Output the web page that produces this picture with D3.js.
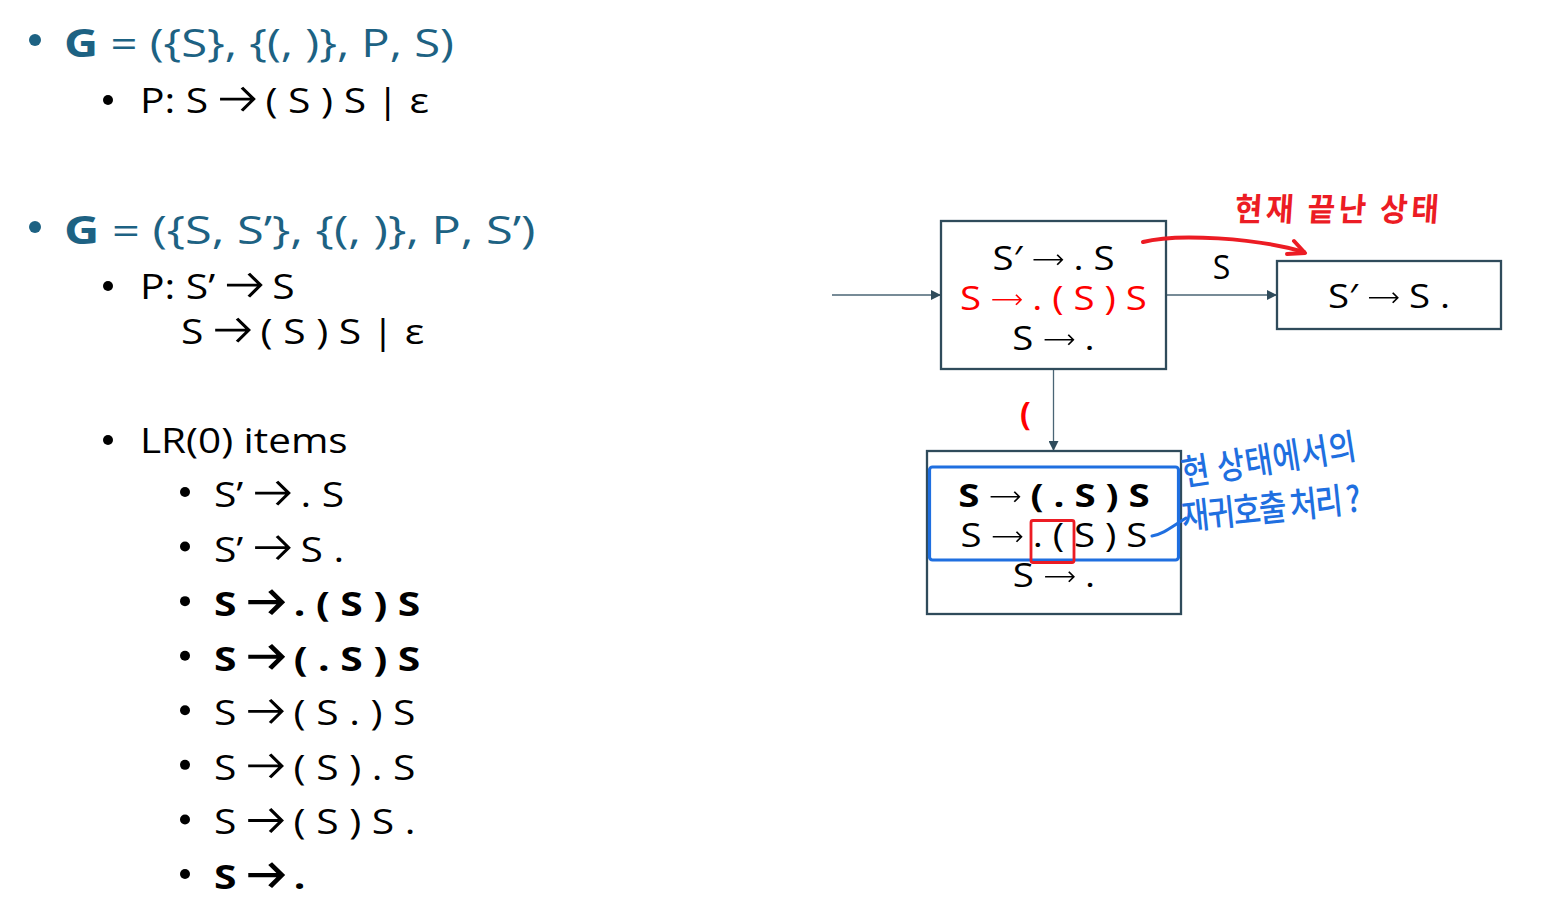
<!DOCTYPE html>
<html>
<head>
<meta charset="utf-8">
<script src="https://cdn.jsdelivr.net/npm/d3@7"></script>
<style>
  body { margin: 0; background: #fff; }
  text { font-family: "Open Sans", "Noto Sans", "DejaVu Sans", sans-serif; }
  .kr { font-family: "Noto Sans CJK KR", sans-serif; }
</style>
</head>
<body>
<svg id="slide"></svg>
<script>
// ---- slide content ----
const grammars = ["({S}, {(, )}, P, S)", "({S, S’}, {(, )}, P, S’)"];
const productionsA = ["P: S -> ( S ) S | ε"];
const productionsB = ["P: S’ -> S", "S -> ( S ) S | ε"];
const itemsHeading = "LR(0) items";
const lr0Items = ["S’ -> . S", "S’ -> S .", "S -> . ( S ) S", "S -> ( . S ) S",
                  "S -> ( S . ) S", "S -> ( S ) . S", "S -> ( S ) S .", "S -> ."];
const lr0Bold = [false, false, true, true, false, false, false, true];

// automaton states
const state0 = ["S′ -> . S", "S -> . ( S ) S", "S -> ."];
const state0Colors = ["#000", "#ff0000", "#000"];
const state1 = ["S′ -> S ."];
const state2 = ["S -> ( . S ) S", "S -> . ( S ) S", "S -> ."];
const state2Bold = [true, false, false];
const transitions = [
  { from: "start", to: 0, label: "" },
  { from: 0, to: 1, label: "S" },
  { from: 0, to: 2, label: "(" }
];
// handwritten notes
const redNote = "현재 끝난 상태";
const blueNote = ["현 상태에서의", "재귀호출 처리 ?"];

const W = 1567, H = 911;
const teal = "#1d6283", slate = "#2f4b5b", red = "#ff0000", pen = "#ec1c24", blue = "#1f6fe0";

const svg = d3.select("#slide").attr("width", W).attr("height", H);

// draws "a -> b" strings: text pieces with drawn arrows between them
function drawExpr(parent, str, o) {
  const g = parent.append("g");
  let x = 0;
  str.split("->").forEach((part, i) => {
    if (i > 0) {
      const cy = -o.size * o.arrowY, x1 = x + o.arrowW - 1;
      g.append("path")
        .attr("d", `M${x + 1},${cy}H${x1}M${x1 - o.head * 0.85},${cy - o.head}L${x1},${cy}L${x1 - o.head * 0.85},${cy + o.head}`)
        .attr("fill", "none")
        .attr("stroke", o.fill)
        .attr("stroke-width", o.arrowStroke)
        .attr("stroke-linejoin", "miter");
      x += o.arrowW;
    }
    if (part.length) {
      const t = g.append("text")
        .attr("xml:space", "preserve")
        .style("white-space", "pre")
        .attr("x", x).attr("y", 0)
        .attr("font-size", o.size)
        .attr("font-weight", o.bold ? 700 : 400)
        .attr("fill", o.fill)
        .text(part);
      x += t.node().getComputedTextLength();
    }
  });
  const sx = o.sx || 1;
  const x0 = o.anchor === "middle" ? o.x - x * sx / 2 : o.x;
  g.attr("transform", `translate(${x0},${o.y}) scale(${sx},1)`);
  return g;
}

const listStyle = { size: 34, sx: 1.2, arrowW: 30, arrowY: 0.41, head: 11.5, fill: "#000" };
const boxStyle = { size: 32, sx: 1.2, arrowW: 26, arrowY: 0.32, head: 5, arrowStroke: 1.4, fill: "#000", anchor: "middle" };

function bullet(x, y, r, color) {
  svg.append("circle").attr("cx", x).attr("cy", y).attr("r", r).attr("fill", color);
}

// ---- left column ----
const gBase = [57, 244];
const gStretch = [1.21, 1.25];
grammars.forEach((s, i) => {
  bullet(35, gBase[i] - 17, 6, teal);
  const t = svg.append("text")
    .attr("transform", `translate(64,${gBase[i]}) scale(${gStretch[i]},1)`)
    .attr("font-size", 39).attr("fill", teal);
  t.append("tspan").attr("font-weight", 700).text("G");
  t.append("tspan").text(" = " + s);
});

function level2(str, x, y, withBullet) {
  if (withBullet) bullet(108, y - 13, 5, "#000");
  drawExpr(svg, str, { ...listStyle, x, y, arrowStroke: 2.8 });
}
level2(productionsA[0], 140, 113, true);
level2(productionsB[0], 140, 299, true);
level2(productionsB[1], 181, 344, false);
bullet(108, 440, 5, "#000");
svg.append("text").attr("transform", "translate(140,453) scale(1.19,1)")
  .attr("font-size", 34).text(itemsHeading);

const rowY = d3.scaleLinear().domain([0, lr0Items.length - 1]).range([507, 889]);
lr0Items.forEach((s, i) => {
  bullet(185, rowY(i) - 15, 5, "#000");
  drawExpr(svg, s, { ...listStyle, x: 214, y: rowY(i), bold: lr0Bold[i],
    arrowStroke: lr0Bold[i] ? 4.2 : 2.8 });
});

// ---- automaton ----
const boxes = [
  { x: 941, y: 221, w: 225, h: 148, lines: state0, base: 270, step: 40 },
  { x: 1277, y: 261, w: 224, h: 68, lines: state1, base: 308, step: 40 },
  { x: 927, y: 451, w: 254, h: 163, lines: state2, base: 507, step: 40 }
];

svg.append("defs").append("marker")
  .attr("id", "tri").attr("viewBox", "0 0 10 10")
  .attr("refX", 10).attr("refY", 5)
  .attr("markerWidth", 10).attr("markerHeight", 10)
  .attr("markerUnits", "userSpaceOnUse")
  .attr("orient", "auto")
  .append("path").attr("d", "M0,0L10,5L0,10Z").attr("fill", slate);

transitions.forEach(tr => {
  const b = boxes[tr.to];
  let p1, p2;
  if (tr.from === "start") {
    p1 = [832, b.y + b.h / 2]; p2 = [b.x, b.y + b.h / 2];
  } else {
    const a = boxes[tr.from];
    if (b.x > a.x + a.w) { p1 = [a.x + a.w, b.y + b.h / 2]; p2 = [b.x, b.y + b.h / 2]; }
    else { p1 = [a.x + a.w / 2, a.y + a.h]; p2 = [a.x + a.w / 2, b.y]; }
  }
  svg.append("line")
    .attr("x1", p1[0]).attr("y1", p1[1]).attr("x2", p2[0]).attr("y2", p2[1])
    .attr("stroke", "#4a6575").attr("stroke-width", 1.3)
    .attr("marker-end", "url(#tri)");
  if (tr.label === "S") {
    svg.append("text").attr("x", (p1[0] + p2[0]) / 2).attr("y", p1[1] - 16)
      .attr("text-anchor", "middle").attr("font-size", 32).text(tr.label);
  } else if (tr.label) {
    svg.append("text").attr("x", p1[0] - 28).attr("y", (p1[1] + p2[1]) / 2 + 15)
      .attr("text-anchor", "middle").attr("font-size", 32).attr("font-weight", 700)
      .attr("fill", red).text(tr.label);
  }
});

boxes.forEach((b, bi) => {
  svg.append("rect").attr("x", b.x).attr("y", b.y).attr("width", b.w).attr("height", b.h)
    .attr("fill", "none").attr("stroke", slate).attr("stroke-width", 2.3);
  const ly = d3.scaleLinear().domain([0, 1]).range([b.base, b.base + b.step]);
  b.lines.forEach((s, i) => {
    drawExpr(svg, s, { ...boxStyle, x: b.x + b.w / 2, y: ly(i),
      fill: bi === 0 ? state0Colors[i] : "#000",
      bold: bi === 2 ? state2Bold[i] : false });
  });
});

// ---- annotations ----
const b0 = boxes[0], b1 = boxes[1], b2 = boxes[2];
// red curved arrow to the accepting state
svg.append("path")
  .attr("d", `M${b0.x + b0.w - 23},${b0.y + 21} C${b0.x + b0.w + 10},${b0.y + 12} ${b1.x - 20},${b0.y + 17} ${b1.x + 27},${b1.y - 9}`)
  .attr("fill", "none").attr("stroke", pen).attr("stroke-width", 4).attr("stroke-linecap", "round");
svg.append("path")
  .attr("d", `M${b1.x + 17},${b1.y - 20} L${b1.x + 28},${b1.y - 8} L${b1.x + 10},${b1.y - 7}`)
  .attr("fill", "none").attr("stroke", pen).attr("stroke-width", 4)
  .attr("stroke-linecap", "round").attr("stroke-linejoin", "round");
svg.append("text").attr("class", "kr")
  .attr("transform", "translate(1234,221) skewX(-4) scale(1,1.08)")
  .attr("font-size", 30).attr("font-weight", 700)
  .attr("fill", pen).attr("textLength", 204).text(redNote);

// blue highlight of the kernel + closure line and red box around ". ("
svg.append("rect").attr("x", b2.x + 2.5).attr("y", 467).attr("width", b2.w - 5).attr("height", 93)
  .attr("rx", 3).attr("fill", "none").attr("stroke", blue).attr("stroke-width", 3.2);
svg.append("rect").attr("x", 1031).attr("y", 520.5).attr("width", 43).attr("height", 42)
  .attr("rx", 2).attr("fill", "none").attr("stroke", pen).attr("stroke-width", 2.8);
svg.append("path").attr("d", "M1152,536 C1163,534 1170,528 1186,518")
  .attr("fill", "none").attr("stroke", blue).attr("stroke-width", 3).attr("stroke-linecap", "round");

svg.append("text").attr("class", "kr")
  .attr("transform", "translate(1184,486) rotate(-9) scale(1,1.2)")
  .attr("font-size", 30).attr("font-weight", 500).attr("fill", blue)
  .attr("textLength", 176).text(blueNote[0]);
svg.append("text").attr("class", "kr")
  .attr("transform", "translate(1183,530) rotate(-6) scale(1,1.2)")
  .attr("font-size", 30).attr("font-weight", 500).attr("fill", blue)
  .attr("textLength", 180).text(blueNote[1]);
</script>
</body>
</html>
